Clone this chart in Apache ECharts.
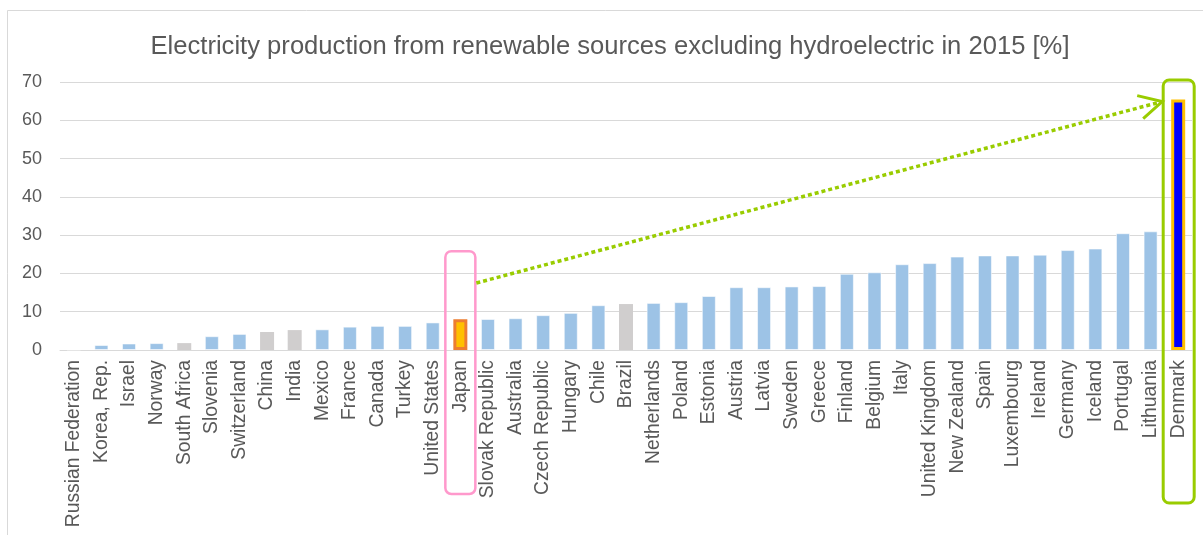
<!DOCTYPE html>
<html>
<head>
<meta charset="utf-8">
<title>Renewables excl. hydro 2015</title>
<script src="https://cdn.jsdelivr.net/npm/echarts@6/dist/echarts.min.js"></script>
<style>
  html, body { margin: 0; padding: 0; background: #ffffff; }
  #chart { width: 1203px; height: 535px; }
</style>
</head>
<body>
<div id="chart"></div>
<script>
// countries, lowest to highest
const countries = [
  "Russian Federation", "Korea, Rep.", "Israel", "Norway", "South Africa",
  "Slovenia", "Switzerland", "China", "India", "Mexico", "France", "Canada",
  "Turkey", "United States", "Japan", "Slovak Republic", "Australia",
  "Czech Republic", "Hungary", "Chile", "Brazil", "Netherlands", "Poland",
  "Estonia", "Austria", "Latvia", "Sweden", "Greece", "Finland", "Belgium",
  "Italy", "United Kingdom", "New Zealand", "Spain", "Luxembourg", "Ireland",
  "Germany", "Iceland", "Portugal", "Lithuania", "Denmark"
];
// share of electricity from renewables excl. hydro, 2015 [%]
const shares = [
  0.1, 1.3, 1.7, 1.8, 1.8,
  3.6, 4.2, 4.7, 5.2, 5.4, 6.1, 6.3,
  6.3, 7.2, 8.0, 8.1, 8.3,
  9.1, 9.7, 11.7, 12.0, 12.3, 12.5,
  14.1, 16.4, 16.4, 16.6, 16.7, 19.9, 20.3,
  22.4, 22.7, 24.4, 24.7, 24.7, 24.9,
  26.1, 26.5, 30.5, 31.0, 65.4
];
// non-OECD countries drawn in grey
const greyCountries = ["South Africa", "China", "India", "Brazil"];
const focusCountry = "Japan";
const topCountry = "Denmark";
const yTicks = [0, 10, 20, 30, 40, 50, 60, 70];

const chart = echarts.init(document.getElementById("chart"));

const barData = countries.map((c, i) => {
  let style = { color: "#9dc3e6", borderColor: "rgba(255,255,255,0.55)", borderWidth: 1 };
  if (greyCountries.indexOf(c) >= 0) style = { color: "#d0cece", borderWidth: 0 };
  if (c === focusCountry) style = { color: "#ffc000", borderColor: "#ed7d31", borderWidth: 3 };
  if (c === topCountry) style = { color: "#0000ff", borderColor: "#ffc000", borderWidth: 3 };
  return { value: shares[i], itemStyle: style };
});

const option = {
  animation: false,
  backgroundColor: "#ffffff",
  title: {
    text: "Electricity production from renewable sources excluding hydroelectric in 2015 [%]",
    left: 605,
    top: 29,
    textAlign: "center",
    textStyle: {
      fontFamily: "Liberation Sans, Arial, sans-serif",
      fontSize: 25.6,
      fontWeight: "normal",
      color: "#595959"
    }
  },
  grid: { left: 60, right: 11, top: 82, bottom: 185 },
  xAxis: {
    type: "category",
    data: countries,
    axisLine: { lineStyle: { color: "#d9d9d9", width: 1 } },
    axisTick: { show: false },
    axisLabel: {
      interval: 0,
      rotate: 90,
      margin: 10,
      fontFamily: "Liberation Sans, Arial, sans-serif",
      fontSize: 19.3,
      color: "#595959"
    }
  },
  yAxis: {
    type: "value",
    min: yTicks[0],
    max: yTicks[yTicks.length - 1],
    interval: 10,
    axisLine: { show: false },
    axisTick: { show: false },
    splitLine: { lineStyle: { color: "#d9d9d9", width: 1 } },
    axisLabel: {
      margin: 18,
      fontFamily: "Liberation Sans, Arial, sans-serif",
      fontSize: 18,
      color: "#595959"
    }
  },
  series: [{
    type: "bar",
    data: barData,
    barWidth: 14,
    z: 2
  }]
};
chart.setOption(option);

// annotation boxes and arrow, placed from the data positions
function px(name, v) {
  return chart.convertToPixel({ seriesIndex: 0 }, [name, v]);
}
const dIdx = countries.indexOf(topCountry);
const jTop = px(focusCountry, 25.8);
const dTop = px(topCountry, shares[dIdx]);
const base = px(focusCountry, 0);
const arrowStart = px(focusCountry, 17.5);
const arrowEnd = [dTop[0] - 16, dTop[1] + 2];

chart.setOption({
  graphic: [
    {
      type: "rect",
      shape: { x: 7.5, y: 10.5, width: 1220, height: 540 },
      style: { fill: null, stroke: "#d9d9d9", lineWidth: 1 },
      silent: true, z: 0
    },
    {
      type: "rect",
      shape: { x: jTop[0] - 15, y: jTop[1], width: 30, height: base[1] + 144 - jTop[1], r: 6 },
      style: { fill: null, stroke: "#ff99cc", lineWidth: 2.5 },
      silent: true, z: 10
    },
    {
      type: "rect",
      shape: { x: dTop[0] - 15, y: 80, width: 31, height: base[1] + 153 - 80, r: 6 },
      style: { fill: null, stroke: "#99cc00", lineWidth: 3 },
      silent: true, z: 10
    },
    {
      type: "line",
      shape: { x1: arrowStart[0] + 16, y1: arrowStart[1], x2: arrowEnd[0] - 4, y2: arrowEnd[1] + 1 },
      style: { stroke: "#99cc00", lineWidth: 3.5, lineDash: [4, 3], lineCap: "butt" },
      silent: true, z: 10
    },
    {
      type: "polyline",
      shape: { points: [
        [arrowEnd[0] - 25, arrowEnd[1] - 6],
        [arrowEnd[0], arrowEnd[1]],
        [arrowEnd[0] - 19, arrowEnd[1] + 17]
      ] },
      style: { stroke: "#99cc00", lineWidth: 3, fill: null, lineJoin: "miter" },
      silent: true, z: 10
    }
  ]
});
</script>
</body>
</html>
